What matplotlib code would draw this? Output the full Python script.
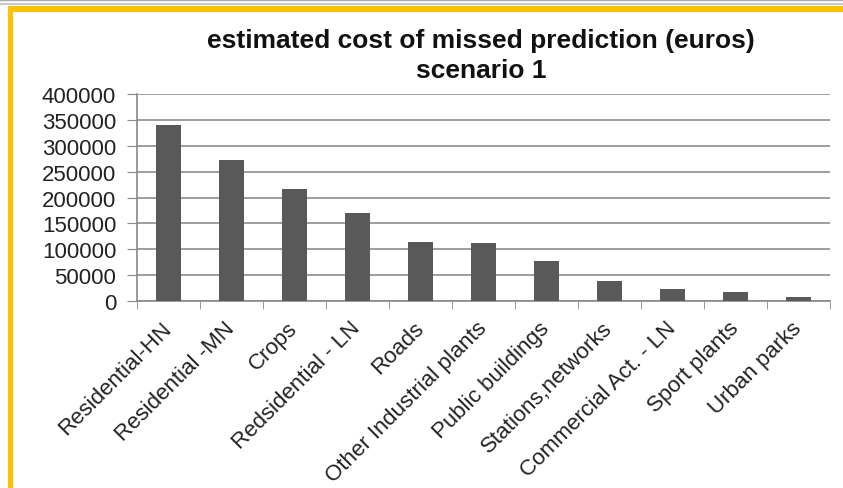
import matplotlib.pyplot as plt
from matplotlib.patches import Rectangle
from matplotlib.lines import Line2D

categories = ["Residential-HN", "Residential -MN", "Crops", "Redsidential - LN", "Roads",
              "Other Industrial plants", "Public buildings", "Stations,networks",
              "Commercial Act. - LN", "Sport plants", "Urban parks"]
costs = [340000, 272000, 216000, 170000, 114000, 113000, 77000, 39000, 24000, 18000, 7000]
yticks = [0, 50000, 100000, 150000, 200000, 250000, 300000, 350000, 400000]

plt.rcParams['font.family'] = ['Liberation Sans', 'DejaVu Sans']

fig = plt.figure(figsize=(8.43, 4.89), dpi=100)
ax = fig.add_axes([0.1625, 0.3824, 0.822, 0.4233])

x = list(range(len(categories)))
ax.bar(x, costs, width=0.4, color="#595959", zorder=3)

ax.set_xlim(-0.5, len(categories) - 0.5)
ax.set_ylim(0, 400000)
ax.set_yticks(yticks)
ax.set_yticklabels([str(v) for v in yticks], fontsize=16, color="#222222")
ax.set_xticks(x)
ax.set_xticklabels(categories, rotation=45, ha="right", va="center", rotation_mode="anchor",
                   fontsize=16, color="#222222")
ax.set_xticks([i - 0.5 for i in range(len(categories) + 1)], minor=True)
ax.tick_params(axis="x", which="major", length=0, pad=17)
ax.tick_params(axis="x", which="minor", length=6, color="#888888")
ax.tick_params(axis="y", length=7, color="#888888", pad=8)

ax.grid(axis="y", color="#8c8c8c", linewidth=1.2, zorder=0)
for s in ["top", "right"]:
    ax.spines[s].set_visible(False)
for s in ["left", "bottom"]:
    ax.spines[s].set_color("#888888")
    ax.spines[s].set_linewidth(1.2)

fig.text(0.571, 0.917, "estimated cost of missed prediction (euros)", ha="center", va="center",
         fontsize=19, fontweight="bold", color="#111111")
fig.text(0.571, 0.855, "scenario 1", ha="center", va="center",
         fontsize=19, fontweight="bold", color="#111111")

# orange frame on the left and top
fig.add_artist(Rectangle((8 / 843, 0), 5 / 843, 1 - 7 / 489, transform=fig.transFigure,
                         color="#FFC000", lw=0))
fig.add_artist(Rectangle((8 / 843, 1 - 13 / 489), 1, 6 / 489, transform=fig.transFigure,
                         color="#FFC000", lw=0))
fig.add_artist(Line2D([0, 1], [1 - 1 / 489, 1 - 1 / 489], transform=fig.transFigure,
                      color="#aaaaaa", lw=1))
fig.add_artist(Line2D([0, 1], [1 - 5 / 489, 1 - 5 / 489], transform=fig.transFigure,
                      color="#c8c8c8", lw=1.5))

fig.savefig("out.png", dpi=100)
